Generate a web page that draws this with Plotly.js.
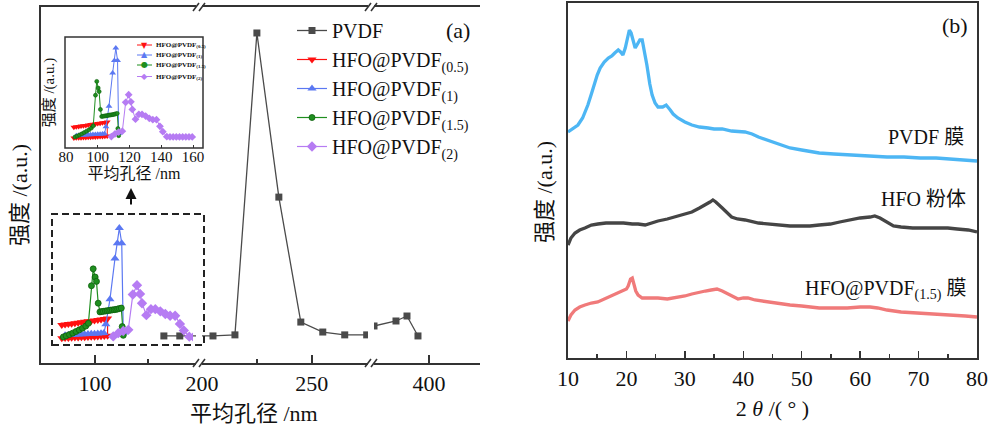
<!DOCTYPE html>
<html>
<head>
<meta charset="utf-8">
<script src="https://cdn.plot.ly/plotly-3.0.1.min.js"></script>
<style>
  html, body { margin: 0; padding: 0; background: #ffffff; }
  #chart { width: 995px; height: 429px; }
</style>
</head>
<body>
<div id="chart"></div>
<script>
// ---------- (a) pore size distribution ----------
// PVDF membrane: mean pore size (nm) and intensity (a.u.)
const pvdfSize      = [165, 180, 205, 215, 225, 235, 245, 255, 265, 275, 375, 385, 390, 395];
const pvdfIntensity = [7.6, 7.6, 7.6, 7.9, 92.7, 46.6, 11.5, 8.7, 7.9, 7.9, 10.4, 11.8, 13.2, 7.6];

// HFO@PVDF composite membranes (inset scale)
const hfo05Size = [85, 86.5, 88, 89.5, 91, 92.5, 94, 95.5, 97, 98.5, 100, 101.5, 103, 104.5, 106,
                   106, 104.5, 103, 101.5, 100, 98.5, 97, 95.5, 94, 92.5, 91, 89.5, 88, 86.5, 85];
const hfo05Intensity = [11.0, 11.4, 11.8, 12.2, 12.6, 13.0, 13.4, 13.9, 14.3, 14.7, 15.1, 15.5, 16.0, 16.4, 16.9,
                        1.0, 0.8, 0.6, 0.4, 0.3, 0.1, 0.0, -0.2, -0.3, -0.5, -0.6, -0.8, -0.9, -1.0, -1.2];

const hfo1Size = [86.5, 88, 89.5, 91, 92.5, 94, 95.5, 97, 98.5, 100, 101.5, 103, 104.3, 105.2, 107.1, 109.4, 110.5, 111.4, 112.5, 113.2];
const hfo1Intensity = [1.5, 1.7, 1.9, 2.0, 2.2, 2.4, 2.5, 2.7, 2.9, 3.0, 3.2, 3.4, 3.6, 11.6, 34.6, 72, 86, 100, 86, 4];

const hfo15Size = [85.7, 87, 88.5, 90, 91.5, 93, 94.5, 96, 97.2, 98.6, 99.4, 100.3, 100.9, 101.7, 102.5, 103.3, 104.1, 105,
                   105.8, 106.6, 107.4, 108.2, 109, 109.8, 110.6, 111.4, 112.3, 112.7, 113.2];
const hfo15Intensity = [0, 1, 2.2, 3.5, 5, 6.5, 8, 10, 12.5, 47, 62.5, 55, 51, 31, 23, 23.3, 23.5, 23.8,
                        24, 24.3, 24.6, 24.8, 25, 25.3, 25.6, 26, 26.5, 9.5, 1.5];

const hfo2Size = [108.6, 110.9, 113.2, 115.5, 117.6, 119.5, 120.9, 121.8, 123.8, 125.9, 127.9, 130.2, 132.5, 134.7,
                  137, 139.2, 141, 143.5, 145.5, 147.5, 149.5, 151.5, 153.5, 155.5, 157.5, 159.5];
const hfo2Intensity = [0.5, 3.5, 5.5, 6.5, 39, 47.5, 39.5, 31, 20, 25.5, 25.5, 23.5, 21, 19.5,
                       19.5, 12, 6, 0.3, 0, 0, 0, 0, 0, 0, 0, 0];

const seriesNames = ['PVDF', 'HFO@PVDF<sub>(0.5)</sub>', 'HFO@PVDF<sub>(1)</sub>',
                     'HFO@PVDF<sub>(1.5)</sub>', 'HFO@PVDF<sub>(2)</sub>'];

// broken x axis tick labels
const seg1Ticks = [100], seg1Minor = [150];
const seg2Ticks = [200, 250], seg2Minor = [225];
const seg3Ticks = [400];
const insetTicks = [80, 100, 120, 140, 160];

// ---------- (b) XRD patterns ----------
const pvdfFilmAngle = [10, 10.5, 11, 11.7, 12.5, 13.4, 14, 14.6, 15, 15.5, 16.2, 16.9, 17.5, 18, 18.6, 19, 19.4, 19.8,
  20.2, 20.5, 20.8, 21.2, 21.5, 21.9, 22.3, 22.7, 23, 23.5, 24, 24.4, 24.9, 25.4, 26.2, 26.8, 27.5, 28, 28.8, 30,
  31.2, 32.5, 34, 35, 36.4, 38, 40.3, 41.5, 42.6, 44, 45, 46.5, 48, 50, 53, 55.5, 58.8, 61.5, 64.6, 67.5, 70.3,
  73, 76, 78, 80];
const pvdfFilmIntensity = [226, 228, 230, 233, 240, 253, 264, 276, 283, 290, 296, 300, 302, 305, 308, 306, 303, 310,
  322, 328, 325, 316, 310, 314, 318, 318, 310, 293, 274, 263, 255, 251, 251, 253, 248, 244, 240, 236,
  233, 231, 230, 229, 229, 227, 226, 224, 221, 218, 216, 213, 210, 208, 205, 204, 203, 202, 201, 201, 200,
  200, 199, 198, 197];

const hfoPowderAngle = [10, 10.5, 11.2, 12, 12.9, 14, 15.1, 16.5, 18, 19.5, 21, 22, 23.2, 24.3, 25.4, 27, 28.3, 30,
  31.2, 32.5, 33.5, 34.3, 34.8, 35.3, 36.4, 37.2, 38, 39, 40.3, 42.6, 44.6, 46, 48, 50, 51.4, 53, 54.9, 56.5,
  58.3, 60, 61.7, 62.5, 63.4, 64.5, 65.7, 67, 69, 71, 73.2, 75, 76.6, 78.5, 80];
const hfoPowderIntensity = [113, 120, 125, 128, 130, 133, 134, 135, 135, 135, 134, 134, 133, 135, 137, 139, 141, 144,
  146, 150, 153, 156, 158, 156, 150, 145, 141, 139, 138, 135, 134, 133, 132, 132, 132, 133, 134, 136,
  138, 140, 141, 142, 140, 136, 132, 131, 130, 130, 130, 130, 129, 128, 126];

const compositeAngle = [10, 10.5, 11.2, 12, 12.9, 14, 15.1, 16.3, 17.5, 18.5, 19.4, 20, 20.3, 20.7, 21, 21.3, 21.6, 22,
  22.7, 24, 25.4, 27, 28.3, 30, 31.2, 32.5, 33.5, 34.5, 35.5, 36.4, 37.4, 38.2, 39.1, 40, 40.8, 42, 43.2, 44.6,
  46, 48, 50, 53, 55, 57.8, 60, 61.7, 63, 64.6, 67, 70.3, 73, 76, 78, 80];
const compositeIntensity = [37, 43, 48, 51, 53, 55, 56, 59, 62, 65, 67, 69, 72, 79, 80, 74, 67, 63,
  60, 60, 60, 59, 60, 62, 64, 66, 67, 68, 69, 67, 64, 61, 59, 60, 60, 58, 57, 56,
  54, 53, 52, 50, 50, 50, 51, 51, 50, 48, 46, 45, 44, 43, 42, 41];

const xrdTicks = [10, 20, 30, 40, 50, 60, 70, 80];
const xrdLabels = ['PVDF 膜', 'HFO 粉体', 'HFO@PVDF<sub>(1.5)</sub> 膜'];

// ---------- page geometry helpers ----------
const W = 995, H = 429;
const fx = p => p / W;          // pixel column -> paper x
const fy = p => 1 - p / H;      // pixel row    -> paper y
const dom = (top, bottom) => [fy(bottom), fy(top)];

const serif = 'Liberation Serif, Noto Sans CJK SC, serif';
const ink = '#111111';
const axisColor = '#333333';

const colors = {
  pvdf: '#4a4a4a', red: '#ff1010', blue: '#5b78f2', green: '#1f8f1f', purple: '#b67cf3',
  xrdBlue: '#4db6f4', xrdDark: '#454545', xrdRed: '#f07a7a'
};
const styles = [
  {color: colors.pvdf,   symbol: 'square',        size: 7, glyph: '■'},
  {color: colors.red,    symbol: 'triangle-down', size: 8, glyph: '▼'},
  {color: colors.blue,   symbol: 'triangle-up',   size: 8, glyph: '▲'},
  {color: colors.green,  symbol: 'circle',        size: 6, glyph: '●'},
  {color: colors.purple, symbol: 'diamond',       size: 8, glyph: '◆'}
];

const traces = [];

// PVDF drawn on the three pieces of the broken axis
['x', 'x2', 'x3'].forEach((xa, i) => {
  traces.push({
    x: pvdfSize, y: pvdfIntensity, xaxis: xa, yaxis: 'y',
    type: 'scatter', mode: 'lines+markers', name: seriesNames[0],
    showlegend: i === 0, legend: 'legend',
    line: {color: colors.pvdf, width: 1.3},
    marker: {symbol: 'square', size: 7, color: colors.pvdf}
  });
});

const hfoSets = [
  [hfo05Size, hfo05Intensity], [hfo1Size, hfo1Intensity],
  [hfo15Size, hfo15Intensity], [hfo2Size, hfo2Intensity]
];

// composite membranes in the dashed box of the main plot
hfoSets.forEach((s, i) => {
  const st = styles[i + 1];
  traces.push({
    x: s[0], y: s[1], xaxis: 'x4', yaxis: 'y4',
    type: 'scatter', mode: 'lines+markers', name: seriesNames[i + 1],
    showlegend: true, legend: 'legend',
    line: {color: st.color, width: 1.2},
    marker: {symbol: st.symbol, size: st.size, color: st.color,
             line: {color: i === 2 ? '#0d5f0d' : st.color, width: i === 2 ? 0.8 : 0}}
  });
});

// composite membranes in the inset
hfoSets.forEach((s, i) => {
  const st = styles[i + 1];
  traces.push({
    x: s[0], y: s[1], xaxis: 'x5', yaxis: 'y5',
    type: 'scatter', mode: 'lines+markers', name: seriesNames[i + 1],
    showlegend: false,
    line: {color: st.color, width: 1},
    marker: {symbol: st.symbol, size: st.size - 2, color: st.color,
             line: {color: i === 2 ? '#0d5f0d' : st.color, width: i === 2 ? 0.6 : 0}}
  });
});

// XRD curves
[[pvdfFilmAngle, pvdfFilmIntensity, colors.xrdBlue],
 [hfoPowderAngle, hfoPowderIntensity, colors.xrdDark],
 [compositeAngle, compositeIntensity, colors.xrdRed]].forEach((c, i) => {
  traces.push({
    x: c[0], y: c[1], xaxis: 'x6', yaxis: 'y6', type: 'scatter', mode: 'lines',
    name: xrdLabels[i], showlegend: false,
    line: {color: c[2], width: 3.3}
  });
});

const tickFont = {family: serif, size: 22, color: ink};
const brokenX = {
  anchor: 'y', showgrid: false, zeroline: false, showline: true, mirror: true,
  linecolor: axisColor, linewidth: 2, ticks: 'inside', ticklen: 8, tickwidth: 1.5,
  tickcolor: axisColor, tickfont: tickFont, tickmode: 'array', fixedrange: true
};
const minorStyle = {ticks: 'inside', ticklen: 4, tickwidth: 1.5, tickcolor: axisColor, tickmode: 'array'};

const hidden = {visible: false, showgrid: false, zeroline: false, fixedrange: true};

const shapes = [];
const annotations = [];

// dashed box around the magnified region
shapes.push({type: 'rect', xref: 'paper', yref: 'paper',
  x0: fx(52), x1: fx(204), y0: fy(345), y1: fy(214),
  line: {color: '#222222', width: 2, dash: '7px,4px'}});

// inset frame
shapes.push({type: 'rect', xref: 'paper', yref: 'paper',
  x0: fx(65), x1: fx(203), y0: fy(148), y1: fy(37),
  line: {color: axisColor, width: 1.5}});

// axis break marks
[199, 371].forEach(bx => {
  [363, 7].forEach(by => {
    [-3, 3].forEach(off => {
      shapes.push({type: 'line', xref: 'paper', yref: 'paper',
        x0: fx(bx + off - 3), y0: fy(by + 4), x1: fx(bx + off + 3), y1: fy(by - 4),
        line: {color: axisColor, width: 1.5}});
    });
  });
});

// arrow from the dashed box to the inset
annotations.push({xref: 'paper', yref: 'paper', x: fx(131), y: fy(188), ax: 0, ay: 18,
  axref: 'pixel', ayref: 'pixel', text: '', showarrow: true,
  arrowhead: 2, arrowsize: 1.1, arrowwidth: 2, arrowcolor: ink});

// inset key
const insetRows = [45, 55, 65, 76.5];
insetRows.forEach((ry, i) => {
  const st = styles[i + 1];
  shapes.push({type: 'line', xref: 'paper', yref: 'paper',
    x0: fx(137), x1: fx(152), y0: fy(ry), y1: fy(ry),
    line: {color: st.color, width: 1}});
  annotations.push({xref: 'paper', yref: 'paper', x: fx(144.5), y: fy(ry),
    xanchor: 'center', yanchor: 'middle', showarrow: false, text: st.glyph,
    font: {family: 'DejaVu Sans', size: 8, color: st.color}});
  annotations.push({xref: 'paper', yref: 'paper', x: fx(153.5), y: fy(ry),
    xanchor: 'left', yanchor: 'middle', showarrow: false,
    text: '<b>' + seriesNames[i + 1] + '</b>',
    font: {family: serif, size: 7, color: ink}});
});

// axis titles, panel tags and curve labels
const titleFont = {family: serif, size: 22, color: ink};
annotations.push({xref: 'paper', yref: 'paper', x: fx(253.5), y: fy(413),
  xanchor: 'center', yanchor: 'middle', showarrow: false, text: '平均孔径 /nm', font: titleFont});
annotations.push({xref: 'paper', yref: 'paper', x: fx(19), y: fy(195), textangle: -90,
  xanchor: 'center', yanchor: 'middle', showarrow: false, text: '强度 /(a.u.)', font: titleFont});
annotations.push({xref: 'paper', yref: 'paper', x: fx(545), y: fy(192), textangle: -90,
  xanchor: 'center', yanchor: 'middle', showarrow: false, text: '强度 /(a.u.)', font: titleFont});
annotations.push({xref: 'paper', yref: 'paper', x: fx(458), y: fy(31),
  xanchor: 'center', yanchor: 'middle', showarrow: false, text: '(a)', font: titleFont});
annotations.push({xref: 'paper', yref: 'paper', x: fx(955), y: fy(26),
  xanchor: 'center', yanchor: 'middle', showarrow: false, text: '(b)', font: titleFont});
[[966, 137], [968, 199], [968, 290]].forEach((p, i) => {
  annotations.push({xref: 'paper', yref: 'paper', x: fx(p[0]), y: fy(p[1]),
    xanchor: 'right', yanchor: 'middle', showarrow: false, text: xrdLabels[i],
    font: {family: serif, size: 20, color: ink}});
});

// tick-label axis of the inset, sitting just above its frame
traces.push({x: [], y: [], xaxis: 'x7', yaxis: 'y5', type: 'scatter', mode: 'lines',
  showlegend: false, hoverinfo: 'skip'});

const layout = {
  width: W, height: H,
  margin: {l: 0, r: 0, t: 0, b: 0, pad: 0},
  paper_bgcolor: '#ffffff', plot_bgcolor: 'rgba(0,0,0,0)',
  font: {family: serif, color: ink},
  showlegend: true,
  legend: {x: fx(292), y: fy(11), xanchor: 'left', yanchor: 'top',
    bgcolor: 'rgba(0,0,0,0)', borderwidth: 0, font: {family: serif, size: 20, color: ink},
    itemwidth: 30, tracegroupgap: 0},

  xaxis:  Object.assign({}, brokenX, {domain: [fx(41), fx(196)], range: [49.06, 195.3],
            tickvals: seg1Ticks, minor: Object.assign({tickvals: seg1Minor}, minorStyle)}),
  xaxis2: Object.assign({}, brokenX, {domain: [fx(202), fx(368)], range: [200, 275.6],
            tickvals: seg2Ticks, minor: Object.assign({tickvals: seg2Minor}, minorStyle)}),
  xaxis3: Object.assign({}, brokenX, {domain: [fx(374), fx(480)], range: [375, 423.2],
            tickvals: seg3Ticks}),
  yaxis: {domain: dom(7, 363), range: [0, 100], anchor: 'x', showgrid: false, zeroline: false,
          showline: true, linecolor: axisColor, linewidth: 2, ticks: '', showticklabels: false,
          fixedrange: true},

  xaxis4: Object.assign({}, hidden, {domain: [fx(41), fx(193)], range: [75.45, 145.2], anchor: 'y4'}),
  yaxis4: Object.assign({}, hidden, {domain: dom(7, 363), range: [-23.9, 302.8], anchor: 'x4'}),

  xaxis5: {domain: [fx(65), fx(203)], range: [79.4, 166.3], anchor: 'y5',
           showgrid: false, zeroline: false, showline: false, ticks: 'inside', ticklen: 3, tickwidth: 1,
           tickcolor: axisColor, tickmode: 'array', tickvals: insetTicks, showticklabels: false,
           fixedrange: true},
  xaxis7: {domain: [fx(65), fx(203)], range: [79.4, 166.3], anchor: 'free', position: fy(146),
           showgrid: false, zeroline: false, showline: false, ticks: '',
           tickmode: 'array', tickvals: insetTicks,
           tickfont: {family: serif, size: 15, color: ink}, fixedrange: true,
           title: {text: '平均孔径 /nm', font: {family: serif, size: 16, color: ink}, standoff: 2}},
  yaxis5: {domain: dom(37, 148), range: [-12.4, 112.4], anchor: 'x5',
           showgrid: false, zeroline: false, showline: false, ticks: '', showticklabels: false,
           fixedrange: true,
           title: {text: '强度 /(a.u.)', font: {family: serif, size: 15, color: ink}, standoff: 5}},

  xaxis6: {domain: [fx(568), fx(977)], range: [10, 80], anchor: 'y6',
           showgrid: false, zeroline: false, showline: true, mirror: true,
           linecolor: axisColor, linewidth: 2, ticks: 'inside', ticklen: 7, tickwidth: 1.5,
           tickcolor: axisColor, tickmode: 'array', tickvals: xrdTicks, tickfont: tickFont,
           minor: {ticks: 'inside', ticklen: 4, tickwidth: 1.5, tickcolor: axisColor, dtick: 5, tick0: 15},
           fixedrange: true,
           title: {text: '2 <i>θ</i> /( ° )', font: titleFont, standoff: 10}},
  yaxis6: {domain: dom(3, 358), range: [0, 355], anchor: 'x6',
           showgrid: false, zeroline: false, showline: true, mirror: true,
           linecolor: axisColor, linewidth: 2, ticks: '', showticklabels: false, fixedrange: true},

  shapes: shapes,
  annotations: annotations
};

Plotly.newPlot('chart', traces, layout, {displayModeBar: false, staticPlot: true});
</script>
</body>
</html>
